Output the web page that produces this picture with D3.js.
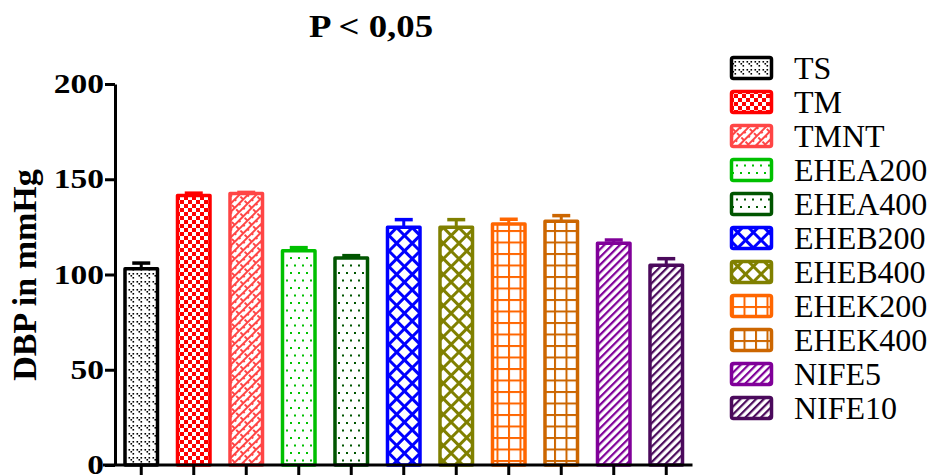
<!DOCTYPE html>
<html>
<head>
<meta charset="utf-8">
<script src="https://cdn.jsdelivr.net/npm/d3@7"></script>
<style>
  html, body { margin: 0; padding: 0; background: #fff; }
  svg { display: block; }
  text { font-family: "Liberation Serif", "Times New Roman", serif; }
</style>
</head>
<body>
<svg id="chart" width="933" height="475"></svg>
<script>
// Diastolic blood pressure per group (mean and upper SEM)
const groups = ["TS", "TM", "TMNT", "EHEA200", "EHEA400", "EHEB200", "EHEB400", "EHEK200", "EHEK400", "NIFE5", "NIFE10"];
const means  = [103, 141.5, 142.5, 112.5, 108.7, 124.8, 124.8, 126.5, 127.9, 116.4, 104.8];
const errors = [3, 1.2, 0.6, 1.6, 1.2, 4, 4, 2.5, 3, 1.7, 3.5];
const colors = ["#000000", "#ff0000", "#ff4545", "#00c000", "#005500", "#0000ff", "#808000", "#ff6600", "#cc6600", "#800099", "#4b0a5c"];
const yTicks = [0, 50, 100, 150, 200];
const title = "P < 0,05";
const yLabel = "DBP in mmHg";

const svg = d3.select("#chart");
const defs = svg.append("defs");

// ---- fill patterns, one per group ----
function pat(id, w, h, transform) {
  const p = defs.append("pattern").attr("id", id)
    .attr("patternUnits", "userSpaceOnUse").attr("width", w).attr("height", h);
  if (transform) p.attr("patternTransform", transform);
  p.append("rect").attr("width", w).attr("height", h).attr("fill", "#fff");
  return p;
}
// TS: small V-shaped specks
(function () {
  const p = pat("p0", 8, 8);
  [[0.5, 1], [4.5, 1], [2.5, 3], [4.5, 5], [6.5, 3], [0.5, 5]].slice(0, 3).forEach(([x, y]) =>
    p.append("rect").attr("x", x).attr("y", y).attr("width", 1.6).attr("height", 1.6).attr("fill", colors[0]));
  [[4.5, 5], [0.5, 5], [6.5, 7], [2.5, 7]].slice(0, 1).forEach(([x, y]) =>
    p.append("rect").attr("x", x).attr("y", y).attr("width", 1.6).attr("height", 1.6).attr("fill", colors[0]));
})();
// TM: checkerboard
(function () {
  const p = pat("p1", 8, 8);
  p.select("rect").attr("fill", colors[1]);
  p.append("rect").attr("width", 4).attr("height", 4).attr("fill", "#fff");
  p.append("rect").attr("x", 4).attr("y", 4).attr("width", 4).attr("height", 4).attr("fill", "#fff");
})();
// TMNT: diagonal bricks
(function () {
  const p = pat("p2", 12, 6, "rotate(-45)");
  const c = colors[2];
  p.append("rect").attr("x", 0).attr("y", 0).attr("width", 12).attr("height", 2).attr("fill", c);
  p.append("rect").attr("x", 0).attr("y", 0).attr("width", 2).attr("height", 3).attr("fill", c);
  p.append("rect").attr("x", 6).attr("y", 3).attr("width", 2).attr("height", 3).attr("fill", c);
})();
// EHEA200 / EHEA400: sparse dots
[3, 4].forEach(i => {
  const p = pat("p" + i, 8, 15);
  p.append("rect").attr("x", 2).attr("y", 2).attr("width", 2).attr("height", 2).attr("fill", colors[i]);
  p.append("rect").attr("x", 6).attr("y", 9.5).attr("width", 2).attr("height", 2).attr("fill", colors[i]);
});
// EHEB200 / EHEB400: diagonal lattice
[5, 6].forEach(i => {
  const p = pat("p" + i, 11, 11, "rotate(45)");
  p.append("rect").attr("width", 11).attr("height", 3).attr("fill", colors[i]);
  p.append("rect").attr("width", 3).attr("height", 11).attr("fill", colors[i]);
});
// EHEK200 / EHEK400: square grid
[7, 8].forEach(i => {
  const p = pat("p" + i, 11.5, 11.5, "translate(2,0)");
  p.append("rect").attr("width", 11.5).attr("height", 2).attr("fill", colors[i]);
  p.append("rect").attr("width", 2).attr("height", 11.5).attr("fill", colors[i]);
});
// NIFE5 / NIFE10: diagonal hatch
[9, 10].forEach(i => {
  const p = pat("p" + i, 5.5, 5.5, "rotate(45)");
  p.append("rect").attr("width", 2.2).attr("height", 5.5).attr("fill", colors[i]);
});

// ---- scales ----
const x = d3.scaleBand().domain(groups).range([115, 692.5])
  .paddingInner(0.314).paddingOuter(0.157);
const y = d3.scaleLinear().domain([0, 200]).range([465, 84]);

// ---- bars ----
const sw = 3.5;
const bars = svg.append("g").selectAll("g").data(groups).join("g");
bars.append("rect")
  .attr("x", d => x(d) + sw / 2)
  .attr("y", (d, i) => y(means[i]))
  .attr("width", x.bandwidth() - sw)
  .attr("height", (d, i) => y(0) - y(means[i]))
  .attr("fill", (d, i) => `url(#p${i})`)
  .attr("stroke", (d, i) => colors[i])
  .attr("stroke-width", sw)
  .attr("stroke-linejoin", "round");
// upper error bars
bars.append("line")
  .attr("x1", d => x(d) + x.bandwidth() / 2).attr("x2", d => x(d) + x.bandwidth() / 2)
  .attr("y1", (d, i) => y(means[i])).attr("y2", (d, i) => y(means[i] + errors[i]))
  .attr("stroke", (d, i) => colors[i]).attr("stroke-width", 3);
bars.append("line")
  .attr("x1", d => x(d) + x.bandwidth() / 2 - 9).attr("x2", d => x(d) + x.bandwidth() / 2 + 9)
  .attr("y1", (d, i) => y(means[i] + errors[i])).attr("y2", (d, i) => y(means[i] + errors[i]))
  .attr("stroke", (d, i) => colors[i]).attr("stroke-width", 3.5);

// ---- axes ----
const yAxis = svg.append("g").attr("transform", "translate(115,0)")
  .call(d3.axisLeft(y).tickValues(yTicks).tickSize(10).tickSizeOuter(0).tickPadding(3));
yAxis.select(".domain").attr("stroke-width", 3);
yAxis.selectAll(".tick line").attr("stroke-width", 3);
// tick labels: wide bold serif digits
yAxis.selectAll(".tick text").attr("font-size", 27).attr("font-weight", "bold")
  .attr("font-family", "Liberation Serif").attr("fill", "#000")
  .attr("x", -11 / 1.24).attr("transform", "scale(1.24,1)");

const xAxis = svg.append("g").attr("transform", "translate(0,465)")
  .call(d3.axisBottom(x).tickSize(14).tickSizeOuter(0).tickFormat(""));
xAxis.select(".domain").attr("stroke-width", 3).attr("d", "M103,0H692.5");
xAxis.selectAll(".tick line").attr("stroke-width", 3);

// ---- title and axis label ----
svg.append("text").attr("transform", "translate(371,37) scale(1.15,1)").attr("text-anchor", "middle")
  .attr("font-size", 32).attr("font-weight", "bold").text(title);
svg.append("text").attr("transform", "translate(36,275) rotate(-90)")
  .attr("text-anchor", "middle").attr("font-size", 34).attr("font-weight", "bold").text(yLabel);

// ---- legend ----
const legend = svg.append("g").selectAll("g").data(groups).join("g")
  .attr("transform", (d, i) => `translate(730,${68 + i * 34})`);
legend.append("rect").attr("x", 1.5).attr("y", -10.5).attr("width", 40).attr("height", 21).attr("rx", 2)
  .attr("fill", (d, i) => `url(#p${i})`).attr("stroke", (d, i) => colors[i]).attr("stroke-width", 3.5);
legend.append("text").attr("x", 64).attr("y", 11).attr("font-size", 32).attr("fill", "#000").text(d => d);
</script>
</body>
</html>
